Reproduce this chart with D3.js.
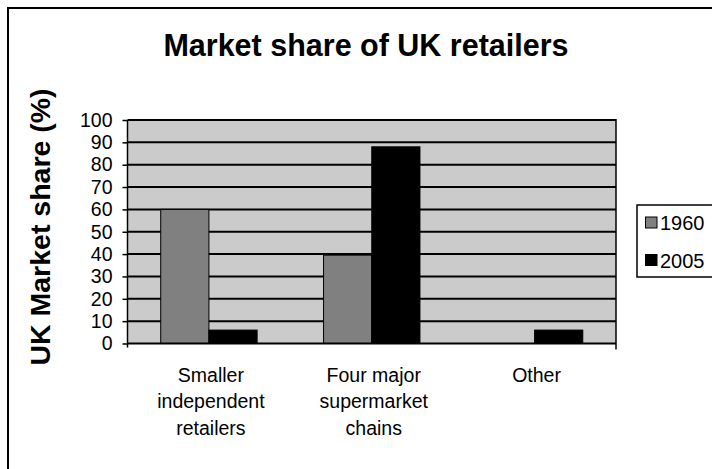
<!DOCTYPE html>
<html>
<head>
<meta charset="utf-8">
<script src="https://cdn.jsdelivr.net/npm/d3@7"></script>
<style>
  html, body { margin: 0; padding: 0; background: #fff; }
  svg { display: block; font-family: "Liberation Sans", Arial, sans-serif; }
</style>
</head>
<body>
<svg id="chart" width="712" height="469"></svg>
<script>
const categories = [["Smaller", "independent", "retailers"], ["Four major", "supermarket", "chains"], ["Other"]];
const categoryKeys = ["Smaller independent retailers", "Four major supermarket chains", "Other"];
const seriesNames = ["1960", "2005"];
const values1960 = [60, 39.5, 0];
const values2005 = [6, 88, 6];
const yTicks = [0, 10, 20, 30, 40, 50, 60, 70, 80, 90, 100];
const seriesColors = ["#808080", "#000000"];

(function () {
const svg = d3.select("#chart");
svg.append("rect").attr("width", 712).attr("height", 469).attr("fill", "#fff");
// outer border
svg.append("rect").attr("x", 8).attr("y", 8).attr("width", 730).attr("height", 490)
  .attr("fill", "none").attr("stroke", "#000").attr("stroke-width", 2);

svg.append("text").attr("x", 366).attr("y", 56).attr("text-anchor", "middle")
  .attr("font-size", 30.5).attr("font-weight", "bold").text("Market share of UK retailers");

const pL = 127.5, pR = 616, pT = 120, pB = 343.5;
const x = d3.scaleBand().domain(categoryKeys).range([pL, pR]).padding(0);
const y = d3.scaleLinear().domain([0, 100]).range([pB, pT]);

// plot background
svg.append("rect").attr("x", pL).attr("y", pT).attr("width", pR - pL).attr("height", pB - pT)
  .attr("fill", "#cbcbcb");

// gridlines
svg.append("g").selectAll("line").data(yTicks.filter(d => d > 0)).join("line")
  .attr("x1", pL).attr("x2", pR).attr("y1", d => y(d)).attr("y2", d => y(d))
  .attr("stroke", "#000").attr("stroke-width", 2);

// right border
svg.append("line").attr("x1", pR).attr("x2", pR).attr("y1", pT - 1).attr("y2", pB + 6)
  .attr("stroke", "#000").attr("stroke-width", 1.5);

// bars
const bw = x.bandwidth() * 0.296;
const data = [];
categoryKeys.forEach((c, i) => {
  data.push({ c, s: 0, v: values1960[i] });
  data.push({ c, s: 1, v: values2005[i] });
});
svg.append("g").selectAll("rect").data(data.filter(d => d.v > 0)).join("rect")
  .attr("x", d => x(d.c) + x.bandwidth() / 2 + (d.s === 0 ? -bw : 0))
  .attr("y", d => y(d.v))
  .attr("width", bw)
  .attr("height", d => y(0) - y(d.v))
  .attr("fill", d => seriesColors[d.s])
  .attr("stroke", "#000").attr("stroke-width", 1);

// x axis line
svg.append("line").attr("x1", pL).attr("x2", pR).attr("y1", pB).attr("y2", pB)
  .attr("stroke", "#000").attr("stroke-width", 2);

// y axis
const yAxis = d3.axisLeft(y).tickValues(yTicks).tickSize(5).tickPadding(10).tickSizeOuter(0);
const gy = svg.append("g").attr("transform", `translate(${pL},0)`).call(yAxis);
gy.select(".domain").attr("stroke", "#000").attr("stroke-width", 1.5)
  .attr("d", `M0,${pT}V${pB + 4}`);
gy.selectAll(".tick line").attr("stroke", "#000").attr("stroke-width", 1.5);
gy.selectAll(".tick text").attr("font-size", 19.5).attr("fill", "#000")
  .attr("font-family", '"Liberation Sans", Arial, sans-serif');

// y label
svg.append("text").attr("transform", "translate(50,227) rotate(-90)")
  .attr("text-anchor", "middle").attr("font-size", 28.5).attr("font-weight", "bold")
  .text("UK Market share (%)");

// category labels
categories.forEach((lines, i) => {
  const cx = x(categoryKeys[i]) + x.bandwidth() / 2 + 2;
  const t = svg.append("text").attr("text-anchor", "middle").attr("font-size", 19.5)
    .attr("x", cx).attr("y", 381.7);
  lines.forEach((l, j) => {
    t.append("tspan").attr("x", cx).attr("dy", j === 0 ? 0 : 26.6).text(l);
  });
});

// legend
const lg = svg.append("g");
lg.append("rect").attr("x", 637).attr("y", 205).attr("width", 100).attr("height", 72)
  .attr("fill", "#fff").attr("stroke", "#000").attr("stroke-width", 1.5);
seriesNames.forEach((n, i) => {
  const yy = 217 + i * 37.5;
  lg.append("rect").attr("x", 645.5).attr("y", yy).attr("width", 11.5).attr("height", 11)
    .attr("fill", seriesColors[i]).attr("stroke", "#000").attr("stroke-width", 1);
  lg.append("text").attr("x", 660).attr("y", yy + 13).attr("font-size", 20).text(n);
});
})();
</script>
</body>
</html>
